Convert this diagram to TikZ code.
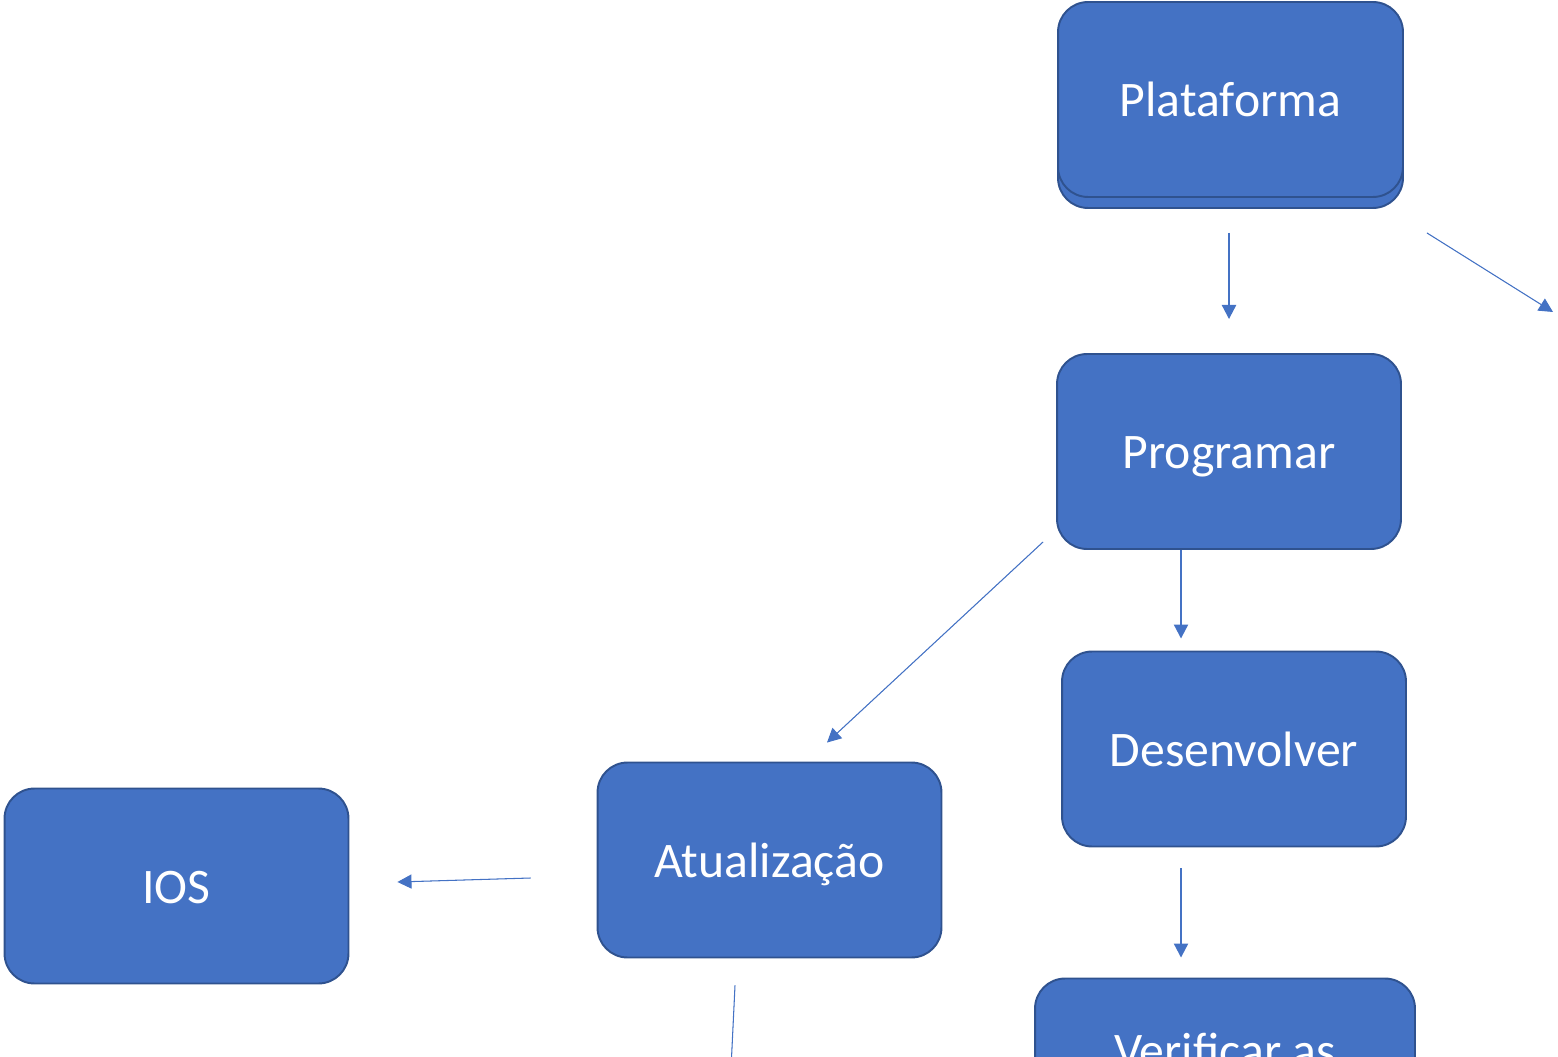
\documentclass[tikz,border=0pt]{standalone}
\usepackage{fontspec}
\setmainfont{Carlito}
\usetikzlibrary{arrows.meta}
\definecolor{fuellung}{HTML}{4472C4}
\definecolor{rand}{HTML}{2F528F}

\begin{document}
\begin{tikzpicture}[
        x=0.02cm, y=-0.02cm,
        kasten/.style = {rectangle, rounded corners=0.6cm, draw=rand, line width=1.1pt, fill=fuellung,
                         minimum width=6.88cm, minimum height=3.9cm, inner sep=0pt,
                         text height=25pt, text depth=5.1pt,
                         text=white, font=\fontsize{28.3}{34}\selectfont},
        pfeil/.style = {-{Triangle[length=8pt, width=8pt]}, draw=fuellung, fill=fuellung, line width=0.6pt},
        pfeil dick/.style = {pfeil, line width=1.2pt}
    ]
    \useasboundingbox (0,0) rectangle (1558,1057);
    \clip (0,0) rectangle (1558,1057);

    %Kaesten
    \node at(1230.5,110.5)(plat_hinten)[kasten, minimum width=6.9cm]{};
    \node at(1230.5,99.5)(plat)[kasten, minimum width=6.9cm]{Plataforma};
    \node at(1229,451.5)(prog)[kasten]{Programar};
    \node at(1234,749)(dev)[kasten]{Desenvolver};
    \node at(769.5,860)(atual)[kasten]{Atualização};
    \node at(176.5,886)(ios)[kasten]{IOS};
    \node at(1225,1076)(verif)[kasten, minimum width=7.6cm]{};
    \node at(1225,1050)(verif_text)[text=white, font=\fontsize{28.3}{34}\selectfont]{Verificar as};

    %Enden ausserhalb
    \coordinate (rechts) at (1553,312);
    \coordinate (unten) at (729,1110);

    %Pfeile
    \draw[pfeil dick] ([shift={(-1.5,35)}]plat.south)       -- ([shift={(0,-34)}]prog.north);
    \draw[pfeil]      ([shift={(23,35)}]plat.south east)    -- (rechts);
    \draw[pfeil dick] ([shift={(-48,0)}]prog.south)         -- ([shift={(-53,-12)}]dev.north);
    \draw[pfeil]      ([shift={(-13,-8)}]prog.south west)   -- ([shift={(57.5,-19)}]atual.north);
    \draw[pfeil dick] ([shift={(-53,21)}]dev.south)         -- ([shift={(-44,-20)}]verif.north);
    \draw[pfeil]      ([shift={(-66,18)}]atual.west)        -- ([shift={(48,-4)}]ios.east);
    \draw[pfeil]      ([shift={(-34.5,27)}]atual.south)     -- (unten);

\end{tikzpicture}
\end{document}
